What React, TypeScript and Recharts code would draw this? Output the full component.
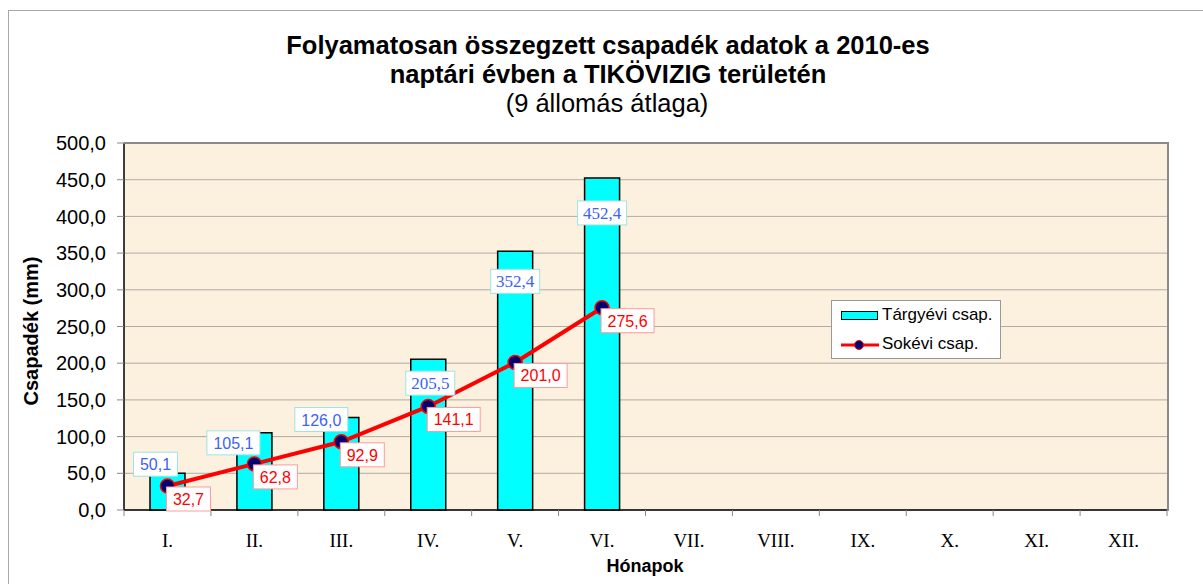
import { ComposedChart, Bar, Line, XAxis, YAxis, CartesianGrid, LabelList } from 'recharts';

// Havi kumulált csapadék, 9 állomás átlaga (mm)
const months = ['I.', 'II.', 'III.', 'IV.', 'V.', 'VI.', 'VII.', 'VIII.', 'IX.', 'X.', 'XI.', 'XII.'];
const targyevi = [50.1, 105.1, 126.0, 205.5, 352.4, 452.4, null, null, null, null, null, null];
const sokevi = [32.7, 62.8, 92.9, 141.1, 201.0, 275.6, null, null, null, null, null, null];
const yTicks = [0, 50, 100, 150, 200, 250, 300, 350, 400, 450, 500];

const data = months.map((m, i) => ({ m, t: targyevi[i], s: sokevi[i] }));

// plot box
const PL = 124;
const PT = 143;
const PR = 1167;
const PB = 510;
const BAND = (PR - PL) / months.length;

// hand-placed label offsets, as in the original Excel chart
const barLabelOffset = [
  [-12, -9],
  [-21, 10],
  [-20, 2],
  [2, 24],
  [0, 30],
  [0, 35],
];

const fmt = (v: number) => v.toFixed(1).replace('.', ',');

const BarLabel = (props: any) => {
  const { x, y, width, value, index } = props;
  if (value == null) return null;
  const serif = index >= 3;
  const txt = fmt(value);
  const w = serif ? txt.length * 8.2 + 8 : txt.length * 9 + 8;
  const [dx, dy] = barLabelOffset[index] || [0, 0];
  const cx = x + width / 2 + dx;
  const cy = y + dy;
  return (
    <g>
      <rect x={cx - w / 2} y={cy - 12} width={w} height={24} fill="#fff" stroke="#9fe3e3" strokeWidth={1} />
      <text
        x={cx}
        y={cy + 6}
        textAnchor="middle"
        fill="#3c64f0"
        fontSize={serif ? 17 : 16}
        fontFamily={serif ? '"Liberation Serif", "Times New Roman", serif' : '"Liberation Sans", Arial, sans-serif'}
      >
        {txt}
      </text>
    </g>
  );
};

const LineLabel = (props: any) => {
  const { x, y, value } = props;
  if (value == null) return null;
  const txt = fmt(value);
  const w = txt.length * 9 + 8;
  const left = x - 1;
  const top = y + 1;
  return (
    <g>
      <rect x={left} y={top} width={w} height={24} fill="#fff" stroke="#ff9a9a" strokeWidth={1} />
      <text x={left + w / 2} y={top + 18} textAnchor="middle" fill="#ff0000" fontSize={16} fontFamily='"Liberation Sans", Arial, sans-serif'>
        {txt}
      </text>
    </g>
  );
};

const Dot = (props: any) => {
  const { cx, cy, value } = props;
  if (value == null || cx == null || cy == null) return null;
  return <circle cx={cx} cy={cy} r={7} fill="#000070" stroke="#ff0000" strokeWidth={1.5} />;
};

const MonthTick = (props: any) => {
  const { x, index, payload } = props;
  return (
    <g>
      <line x1={x - BAND / 2} x2={x - BAND / 2} y1={PB} y2={PB + 6} stroke="#888" />
      {index === months.length - 1 && <line x1={x + BAND / 2} x2={x + BAND / 2} y1={PB} y2={PB + 6} stroke="#888" />}
      <text x={x} y={547} textAnchor="middle" fontSize={19} fontFamily='"Liberation Serif", "Times New Roman", serif' fill="#000">
        {payload.value}
      </text>
    </g>
  );
};

export default function App() {
  const sans = '"Liberation Sans", Arial, sans-serif';
  return (
    <div style={{ position: 'absolute', left: 0, top: 0, width: 1203, height: 584, overflow: 'hidden', background: '#fff' }}>
      <div style={{ position: 'absolute', left: 8, top: 10, width: 1203, height: 584, borderLeft: '1px solid #a8a8a8', borderTop: '1px solid #a8a8a8' }} />
      <div style={{ position: 'absolute', left: 0, top: 0 }}>
        <ComposedChart width={1203} height={584} data={data} margin={{ top: PT, right: 1203 - PR, bottom: 34, left: 0 }}>
          <CartesianGrid vertical={false} fill="#fcf1de" fillOpacity={1} stroke="#b0aca4" />
          <XAxis
            dataKey="m"
            interval={0}
            height={40}
            axisLine={{ stroke: '#000', strokeWidth: 1.5 }}
            tickLine={false}
            tick={<MonthTick />}
          />
          <YAxis
            width={PL}
            domain={[0, 500]}
            ticks={yTicks}
            tickFormatter={fmt}
            tickSize={7}
            tickMargin={11}
            axisLine={{ stroke: '#000', strokeWidth: 1.5 }}
            tickLine={{ stroke: '#888' }}
            tick={{ fill: '#000', fontSize: 20, fontFamily: sans }}
          />
          <Bar dataKey="t" barSize={35} fill="#00ffff" stroke="#000" strokeWidth={1.5} isAnimationActive={false}>
            <LabelList dataKey="t" content={<BarLabel />} />
          </Bar>
          <Line
            dataKey="s"
            type="linear"
            stroke="#ff0000"
            strokeWidth={4}
            dot={<Dot />}
            activeDot={false}
            isAnimationActive={false}
          >
            <LabelList dataKey="s" content={<LineLabel />} />
          </Line>
        </ComposedChart>
      </div>

      {/* plot frame, top and right */}
      <div style={{ position: 'absolute', left: PL, top: PT - 1, width: PR - PL, height: PB - PT, borderTop: '2px solid #8a8a8a', borderRight: '2px solid #8a8a8a', pointerEvents: 'none' }} />

      <svg width={1203} height={584} style={{ position: 'absolute', left: 0, top: 0, pointerEvents: 'none' }}>
        <text x={608} y={54} textAnchor="middle" fontFamily={sans} fontWeight="bold" fontSize={25.5}>
          Folyamatosan összegzett csapadék adatok a 2010-es
        </text>
        <text x={608} y={83} textAnchor="middle" fontFamily={sans} fontWeight="bold" fontSize={25.5}>
          naptári évben a TIKÖVIZIG területén
        </text>
        <text x={607} y={112} textAnchor="middle" fontFamily={sans} fontSize={25.5}>
          (9 állomás átlaga)
        </text>
        <text x={38} y={331} transform="rotate(-90 38 331)" textAnchor="middle" fontFamily={sans} fontWeight="bold" fontSize={20}>
          Csapadék (mm)
        </text>
        <text x={645} y={572} textAnchor="middle" fontFamily={sans} fontWeight="bold" fontSize={18}>
          Hónapok
        </text>
      </svg>

      {/* legend */}
      <div style={{ position: 'absolute', left: 831, top: 300, width: 168, height: 57, background: '#fff', border: '1px solid #999', fontFamily: sans, fontSize: 17 }}>
        <div style={{ position: 'absolute', left: 9, top: 10, width: 35, height: 7, background: '#00ffff', border: '1px solid #000' }} />
        <div style={{ position: 'absolute', left: 50, top: 4, lineHeight: '20px' }}>Tárgyévi csap.</div>
        <svg style={{ position: 'absolute', left: 8, top: 37 }} width={40} height={14}>
          <line x1={1} x2={39} y1={7} y2={7} stroke="#ff0000" strokeWidth={3} />
          <circle cx={19} cy={7} r={4.5} fill="#000070" stroke="#ff0000" strokeWidth={1} />
        </svg>
        <div style={{ position: 'absolute', left: 50, top: 33, lineHeight: '20px' }}>Sokévi csap.</div>
      </div>
    </div>
  );
}
